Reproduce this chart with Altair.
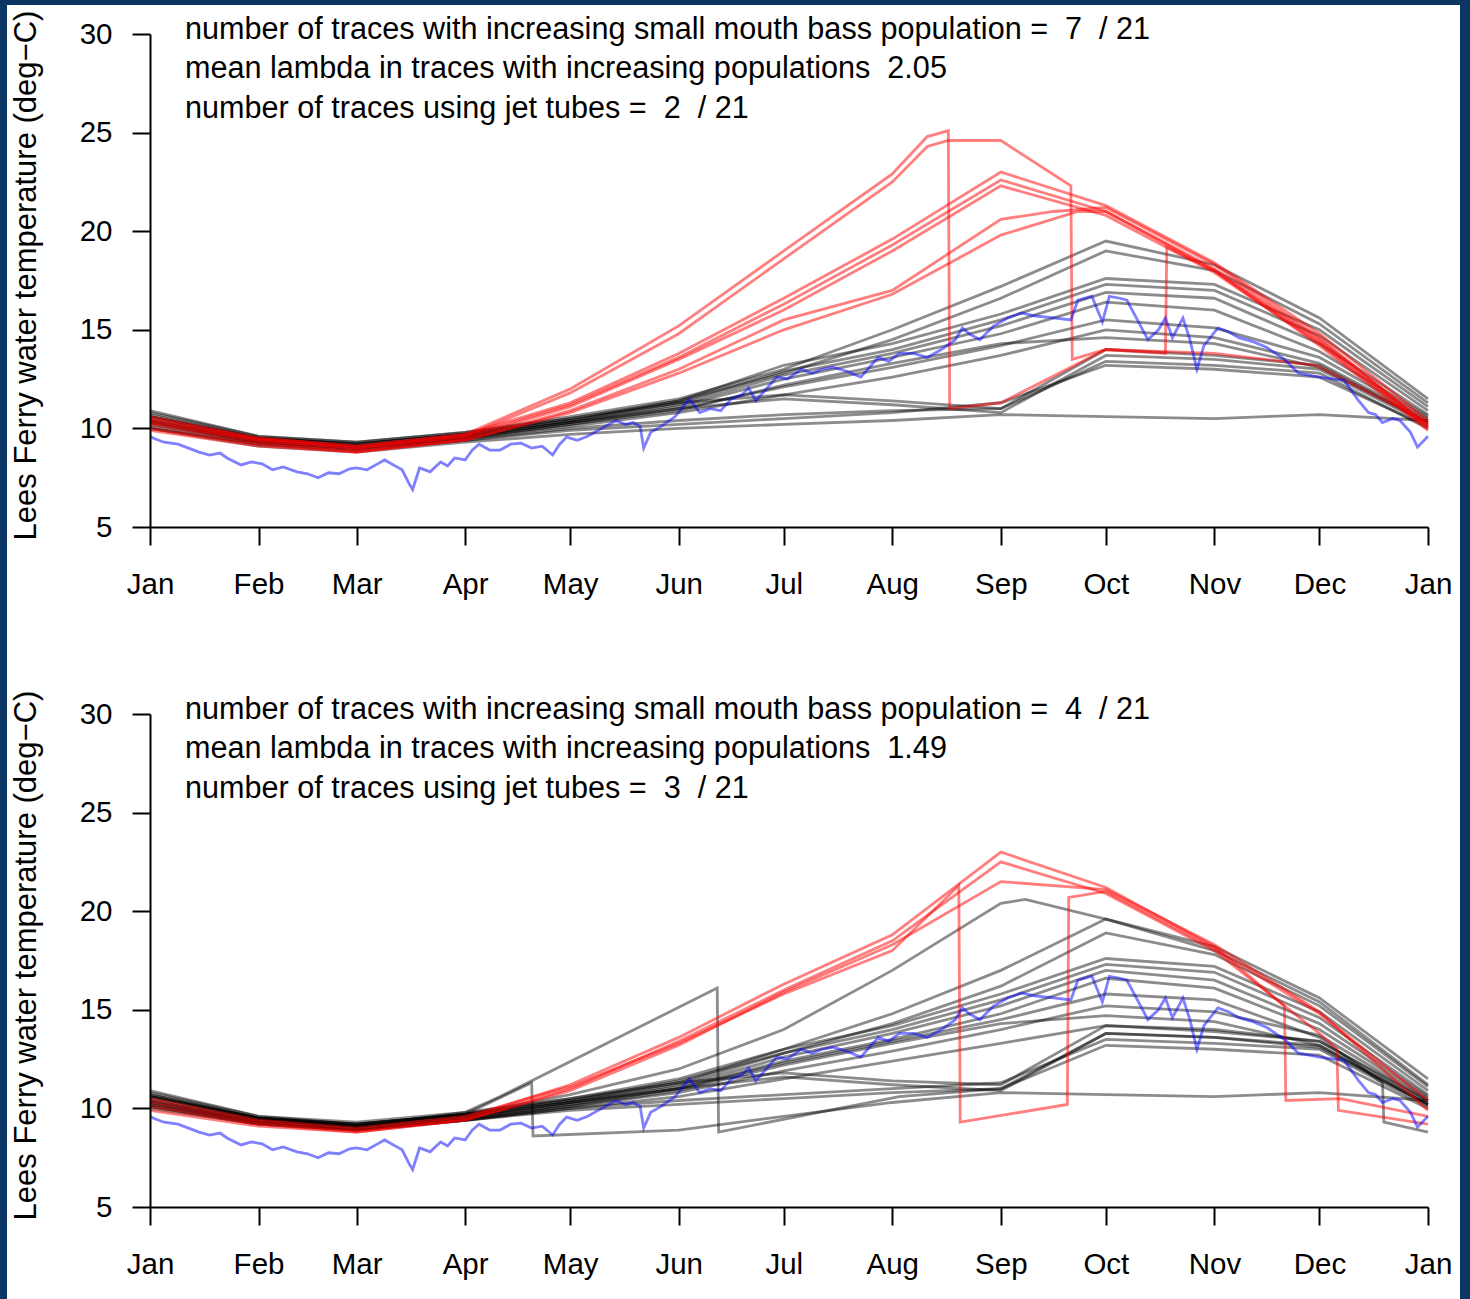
import altair as alt
import pandas as pd

# ---------------- data ----------------
MONTH_DAYS = [0, 31, 59, 90, 120, 151, 181, 212, 243, 273, 304, 334, 365]
MONTH_LABELS = ["Jan", "Feb", "Mar", "Apr", "May", "Jun", "Jul", "Aug", "Sep", "Oct", "Nov", "Dec", "Jan"]
Y_TICKS = [5, 10, 15, 20, 25, 30]
Y_TITLE = "Lees Ferry water temperature (deg\u2212C)"

# observed temperature (blue), shared by both panels
OBS_DAY = [0, 1, 4, 8, 11, 14, 17, 20, 22, 26, 29, 32, 35, 38, 42, 45, 48, 51, 54, 57, 59, 62, 65, 67,
           70, 72, 74, 75, 77, 80, 83, 85, 87, 90, 92, 94, 97, 100, 103, 106, 109, 112, 115, 117, 119,
           122, 125, 128, 131, 133, 136, 138, 140, 141, 143, 146, 150, 154, 157, 160, 163, 166, 169,
           171, 173, 176, 179, 182, 186, 189, 192, 195, 199, 203, 206, 208, 211, 214, 218, 222, 226,
           230, 232, 234, 237, 241, 245, 249, 253, 258, 263, 265, 269, 272, 274, 277, 279, 282, 285,
           288, 290, 292, 295, 297, 299, 301, 305, 308, 311, 315, 319, 324, 328, 331, 334, 338, 341,
           345, 348, 350, 352, 355, 357, 360, 362, 365]
OBS_TEMP = [9.6, 9.5, 9.3, 9.2, 9.0, 8.8, 8.65, 8.75, 8.5, 8.15, 8.3, 8.2, 7.9, 8.05, 7.8, 7.7, 7.5, 7.75,
            7.7, 7.95, 8.0, 7.9, 8.2, 8.4, 8.1, 7.9, 7.2, 6.9, 8.0, 7.8, 8.3, 8.1, 8.5, 8.4, 8.9, 9.2,
            8.9, 8.9, 9.2, 9.25, 9.0, 9.1, 8.65, 9.2, 9.56, 9.4, 9.6, 9.9, 10.2, 10.4, 10.2, 10.3, 10.1,
            9.0, 9.8, 10.1, 10.6, 11.5, 10.8, 11.0, 10.9, 11.5, 11.7, 12.05, 11.4, 12.0, 12.6, 12.5,
            13.0, 12.8, 13.0, 13.1, 12.9, 12.6, 13.2, 13.6, 13.4, 13.8, 13.8, 13.6, 14.0, 14.5, 15.1,
            14.8, 14.5, 15.2, 15.6, 15.85, 15.7, 15.6, 15.5, 16.5, 16.7, 15.4, 16.7, 16.6, 16.5, 15.5,
            14.5, 15.0, 15.6, 14.6, 15.6, 14.5, 13.0, 14.2, 15.1, 14.9, 14.6, 14.4, 14.1, 13.5, 12.8,
            12.7, 12.6, 12.5, 12.45, 11.45, 10.8, 10.7, 10.3, 10.5, 10.4, 9.8, 9.05, 9.6]

# ---- top panel: simulated traces (values at MONTH_DAYS) ----
TOP_GRAY = {
    "G1":  [10.9, 9.6, 9.3, 9.8, 10.6, 11.5, 13.0, 15.0, 17.2, 19.5, 18.3, 15.6, 11.5],
    "G2":  [10.8, 9.6, 9.3, 9.8, 10.5, 11.4, 12.8, 14.5, 16.6, 19.0, 18.0, 15.3, 11.3],
    "G3":  [10.7, 9.5, 9.2, 9.7, 10.4, 11.4, 13.2, 14.3, 15.8, 17.6, 17.3, 15.0, 11.1],
    "G4":  [10.6, 9.5, 9.2, 9.7, 10.4, 11.3, 12.9, 14.0, 15.5, 17.3, 17.0, 14.7, 10.9],
    "G5":  [10.5, 9.4, 9.1, 9.6, 10.3, 11.2, 12.7, 13.8, 15.2, 16.9, 16.6, 14.3, 10.7],
    "G6":  [10.4, 9.4, 9.1, 9.6, 10.3, 11.1, 12.5, 13.6, 14.8, 16.4, 16.0, 13.9, 10.6],
    "G7":  [10.3, 9.3, 9.0, 9.5, 10.2, 11.0, 12.1, 13.1, 14.2, 15.5, 15.1, 13.6, 10.5],
    "G8":  [10.2, 9.3, 9.0, 9.5, 10.1, 10.8, 11.7, 12.6, 13.7, 15.0, 14.6, 13.3, 10.4],
    "G9":  [10.6, 9.5, 9.2, 9.7, 10.5, 11.3, 11.7, 11.4, 11.0, 14.0, 13.7, 13.2, 10.3],
    "G10": [10.4, 9.4, 9.1, 9.6, 10.3, 11.0, 11.5, 11.2, 10.8, 13.7, 13.5, 13.0, 10.2],
    "G11": [10.1, 9.2, 8.9, 9.4, 10.0, 10.4, 10.7, 10.9, 11.0, 13.4, 13.2, 12.8, 10.0],
    "G12": [10.0, 9.2, 8.9, 9.4, 9.9, 10.2, 10.5, 10.8, 11.3, 13.2, 13.0, 12.6, 10.1],
    "G13": [10.0, 9.1, 8.8, 9.3, 9.7, 10.0, 10.2, 10.4, 10.7, 10.6, 10.5, 10.7, 10.4],
    "G14": [10.3, 9.3, 9.0, 9.5, 10.2, 10.9, 12.2, 13.3, 14.3, 14.6, 14.3, 13.1, 10.3],
}
TOP_RED = {
    "R3": [10.6, 9.5, 9.1, 9.7, 11.3, 13.8, 16.6, 19.6, 23.0, 21.3, 18.4, 14.8, 10.4],
    "R4": [10.4, 9.4, 9.0, 9.6, 11.2, 13.6, 16.3, 19.3, 22.6, 21.0, 18.1, 14.5, 10.2],
    "R5": [10.2, 9.3, 8.9, 9.5, 11.1, 13.5, 16.0, 19.0, 22.3, 20.8, 17.9, 14.3, 10.0],
}
TOP_RED_DAYS = {
    "R1": [0, 31, 59, 90, 120, 151, 181, 212, 222, 228, 228.4, 243, 273, 290, 290.4, 304, 334, 365],
    "R2": [0, 31, 59, 90, 120, 151, 181, 212, 222, 228, 243, 263, 263.4, 273, 304, 333, 365],
    "R6": [0, 31, 59, 90, 120, 151, 181, 212, 243, 258, 273, 304, 334, 365],
    "R7": [0, 31, 59, 90, 120, 151, 181, 212, 243, 265, 273, 304, 334, 365],
}
TOP_RED_VALS = {
    "R1": [10.5, 9.5, 9.1, 9.7, 12.0, 15.2, 19.0, 22.9, 24.8, 25.1, 11.0, 11.3, 14.0, 13.8, 19.2, 18.0, 14.4, 10.1],
    "R2": [10.3, 9.4, 9.0, 9.6, 11.8, 14.8, 18.6, 22.5, 24.3, 24.6, 24.6, 22.3, 13.5, 14.0, 13.8, 13.2, 10.3],
    "R6": [10.0, 9.2, 8.8, 9.4, 10.9, 13.0, 15.5, 17.0, 20.6, 21.0, 21.2, 18.3, 14.6, 10.1],
    "R7": [9.9, 9.1, 8.8, 9.4, 10.8, 12.8, 15.0, 16.8, 19.8, 21.0, 21.0, 18.0, 14.2, 9.9],
}
TOP_NOTES = [
    "number of traces with increasing small mouth bass population =\u00a0 7 \u00a0/ 21",
    "mean lambda in traces with increasing populations \u00a02.05",
    "number of traces using jet tubes =\u00a0 2 \u00a0/ 21",
]

# ---- bottom panel ----
BOT_GRAY = {
    "BG1": [10.9, 9.6, 9.3, 9.8, 10.5, 11.5, 13.0, 14.8, 17.0, 19.6, 18.2, 15.6, 11.5],
    "BG2": [10.7, 9.5, 9.2, 9.7, 10.4, 11.4, 12.8, 14.3, 16.2, 18.9, 17.8, 15.2, 11.1],
    "BG3": [10.6, 9.5, 9.2, 9.7, 10.4, 11.3, 13.0, 14.2, 15.8, 17.6, 17.2, 14.9, 10.9],
    "BG4": [10.5, 9.4, 9.1, 9.6, 10.3, 11.2, 12.8, 14.0, 15.5, 17.3, 16.9, 14.6, 10.7],
    "BG5": [10.4, 9.4, 9.1, 9.6, 10.3, 11.1, 12.6, 13.8, 15.2, 17.0, 16.5, 14.3, 10.6],
    "BG6": [10.3, 9.3, 9.0, 9.5, 10.2, 11.0, 12.4, 13.5, 14.8, 16.6, 16.1, 14.0, 10.5],
    "BG7": [10.2, 9.3, 9.0, 9.5, 10.1, 10.8, 11.9, 12.9, 14.0, 15.2, 14.9, 13.7, 10.4],
    "BG8": [10.1, 9.2, 8.9, 9.4, 10.0, 10.6, 11.5, 12.4, 13.3, 14.2, 14.0, 13.4, 10.3],
    "BG9": [10.2, 9.3, 8.9, 9.4, 10.1, 10.9, 12.2, 13.3, 14.3, 14.7, 14.4, 13.2, 10.2],
    "BL1": [10.6, 9.5, 9.2, 9.7, 10.5, 11.3, 11.8, 11.4, 11.2, 14.2, 13.9, 13.4, 10.4],
    "BL2": [10.4, 9.4, 9.1, 9.6, 10.3, 11.0, 11.6, 11.2, 10.9, 13.8, 13.6, 13.2, 10.2],
    "BL3": [10.1, 9.2, 8.9, 9.4, 10.0, 10.4, 10.7, 11.0, 11.3, 13.5, 13.3, 13.0, 10.1],
    "BL4": [10.0, 9.2, 8.9, 9.4, 9.9, 10.2, 10.5, 10.8, 11.0, 13.2, 13.0, 12.7, 10.0],
}
BOT_GRAY_DAYS = {
    "BGa": [0, 31, 59, 90, 109, 109.4, 151, 181, 212, 243, 273, 304, 334, 365],
    "BGb": [0, 31, 59, 90, 100, 162, 162.4, 214, 243, 273, 304, 334, 365],
    "BGc": [0, 31, 59, 90, 120, 151, 181, 212, 243, 273, 304, 334, 352, 352.4, 365],
    "BGp": [0, 31, 59, 90, 120, 151, 181, 212, 243, 250, 273, 304, 334, 365],
}
BOT_GRAY_VALS = {
    "BGa": [10.7, 9.5, 9.1, 9.7, 11.3, 8.6, 8.9, 9.6, 10.3, 10.8, 10.7, 10.6, 10.8, 10.4],
    "BGb": [10.6, 9.5, 9.1, 9.8, 10.6, 16.1, 8.8, 10.6, 11.0, 13.8, 13.6, 13.1, 10.2],
    "BGc": [10.3, 9.3, 9.0, 9.5, 10.2, 11.0, 12.3, 13.4, 14.5, 15.8, 15.5, 13.6, 11.3, 9.3, 8.8],
    "BGp": [10.8, 9.6, 9.2, 9.7, 10.7, 12.0, 14.0, 17.0, 20.4, 20.6, 19.6, 18.0, 15.4, 11.2],
}
BOT_RED_DAYS = {
    "BR1": [0, 31, 59, 90, 120, 151, 181, 212, 243, 273, 304, 324, 324.4, 340, 365],
    "BR2": [0, 31, 59, 90, 120, 151, 181, 212, 243, 273, 304, 334, 339, 339.4, 365],
    "BR3": [0, 31, 59, 90, 120, 151, 181, 212, 231, 231.4, 262, 262.4, 273, 304, 334, 365],
    "BR4": [0, 31, 59, 90, 120, 151, 181, 212, 243, 273, 304, 334, 365],
}
BOT_RED_VALS = {
    "BR1": [10.3, 9.3, 8.9, 9.5, 11.2, 13.6, 16.3, 18.8, 23.0, 21.2, 18.2, 15.2, 10.4, 10.5, 9.6],
    "BR2": [10.1, 9.2, 8.8, 9.4, 11.0, 13.4, 16.0, 18.5, 22.5, 20.9, 18.0, 13.8, 13.0, 9.9, 9.2],
    "BR3": [10.5, 9.4, 9.0, 9.6, 11.1, 13.3, 15.8, 18.0, 21.3, 9.3, 10.2, 20.7, 21.0, 18.1, 14.8, 10.4],
    "BR4": [9.9, 9.1, 8.8, 9.4, 10.9, 13.2, 15.9, 18.3, 21.5, 21.1, 18.3, 14.9, 9.9],
}
BOT_NOTES = [
    "number of traces with increasing small mouth bass population =\u00a0 4 \u00a0/ 21",
    "mean lambda in traces with increasing populations \u00a01.49",
    "number of traces using jet tubes =\u00a0 3 \u00a0/ 21",
]
NOTE_DAY = [10.0, 10.0, 10.0]
NOTE_TEMP = [29.75, 27.77, 25.74]

FONT = "Liberation Sans"
NAVY = "#0b3563"


def traces_df(monthly, days_map=None, vals_map=None):
    rows = []
    for name, vals in monthly.items():
        for d, v in zip(MONTH_DAYS, vals):
            rows.append({"trace": name, "day": d, "temp": v})
    if days_map:
        for name in days_map:
            for d, v in zip(days_map[name], vals_map[name]):
                rows.append({"trace": name, "day": d, "temp": v})
    return pd.DataFrame(rows)


label_expr = "{}[indexof({}, datum.value)]".format(
    "[" + ",".join("'%s'" % m for m in MONTH_LABELS) + "]",
    "[" + ",".join(str(d) for d in MONTH_DAYS) + "]",
)

X = alt.X("day:Q", scale=alt.Scale(domain=[0, 365], nice=False, zero=False),
          axis=alt.Axis(values=MONTH_DAYS, labelExpr=label_expr, title=None, zindex=2))
Y = alt.Y("temp:Q", scale=alt.Scale(domain=[5, 30], nice=False, zero=False),
          axis=alt.Axis(values=Y_TICKS, title=Y_TITLE, zindex=2))


def panel(gray_df, red_df, notes, rect_top, rect_bottom):
    bg = alt.Chart(pd.DataFrame({"k": [0]})).mark_rect(color="white").encode(
        x=alt.value(-143), x2=alt.value(1310), y=alt.value(rect_top), y2=alt.value(rect_bottom))
    gray = alt.Chart(gray_df).mark_line(color="black", opacity=0.45, strokeWidth=2.8).encode(
        x=X, y=Y, detail="trace:N")
    red = alt.Chart(red_df).mark_line(color="#ff0000", opacity=0.5, strokeWidth=2.8).encode(
        x=X, y=Y, detail="trace:N")
    obs = alt.Chart(pd.DataFrame({"day": OBS_DAY, "temp": OBS_TEMP})).mark_line(
        color="#0000ff", opacity=0.5, strokeWidth=2.8).encode(x=X, y=Y)
    txt = alt.Chart(pd.DataFrame({"day": NOTE_DAY, "temp": NOTE_TEMP, "note": notes})).mark_text(
        align="left", baseline="alphabetic", font=FONT, fontSize=30.6, color="black").encode(
        x=X, y=Y, text="note:N")
    return alt.layer(bg, gray, red, obs, txt).properties(width=1278, height=493)


top = panel(traces_df(TOP_GRAY),
            traces_df(TOP_RED, TOP_RED_DAYS, TOP_RED_VALS),
            TOP_NOTES, -29, 606)
bottom = panel(traces_df(BOT_GRAY, BOT_GRAY_DAYS, BOT_GRAY_VALS),
               traces_df({}, BOT_RED_DAYS, BOT_RED_VALS),
               BOT_NOTES, -74, 585)

chart = alt.vconcat(top, bottom, spacing=187, bounds="flush").properties(
    background=NAVY,
    padding={"left": 7, "top": 5, "right": 10, "bottom": 0},
).configure_view(stroke=None).configure_axis(
    grid=False, domainColor="black", domainWidth=2, tickColor="black", tickWidth=2, tickSize=18,
    labelFont=FONT, labelFontSize=29.5, labelColor="black", labelOverlap=False, labelFlush=False,
    titleFont=FONT, titleFontSize=31, titleColor="black", titleFontWeight="normal",
).configure_axisX(
    labelPadding=48, labelBaseline="alphabetic", labelAlign="center",
).configure_axisY(
    labelPadding=20, labelAlign="right", labelBaseline="middle",
    titleX=-124, titleY=241, titleAngle=-90, titleAlign="center", titleBaseline="middle",
)

chart.save("out.html", embed_options={"renderer": "svg", "actions": False})
